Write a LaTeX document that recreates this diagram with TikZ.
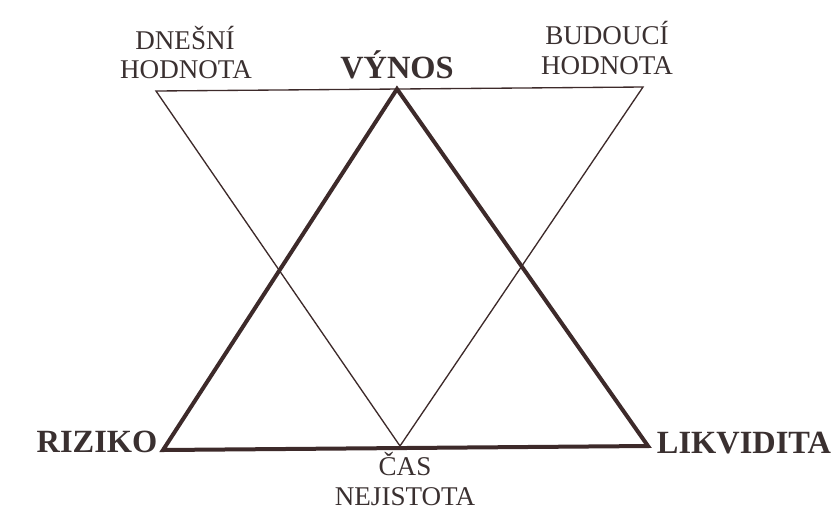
\documentclass[tikz,border=0pt]{standalone}
\usepackage{fontspec}
\setmainfont{Liberation Serif}
\definecolor{ink}{HTML}{3A3030}
\definecolor{lineink}{HTML}{3D2A2A}
\begin{document}
\begin{tikzpicture}[x=0.75pt,y=-0.75pt,
  thinline/.style={draw=lineink,line width=1.0pt,line join=miter},
  thickline/.style={draw=lineink,line width=3pt,line join=miter},
  lab/.style={text=ink,inner sep=0pt,anchor=base,font=\fontsize{20.3}{22}\selectfont},
  blab/.style={text=ink,inner sep=0pt,anchor=base,font=\fontsize{24.3}{27}\selectfont\bfseries}]
\useasboundingbox (0,0) rectangle (838,515);
% thin inverted triangle
\coordinate (tl) at (156,91);
\coordinate (tr) at (643,87);
\coordinate (tb) at (400,446);
\draw[thinline] (tl) -- (tr) -- (tb) -- cycle;
% thick triangle
\coordinate (ka) at (397,89);
\coordinate (kl) at (163,450);
\coordinate (kr) at (648,446);
\draw[thickline] (ka) -- (kr) -- (kl) -- cycle;
% labels
\node[lab] (dn1) at (185,49) {DNEŠNÍ};
\node[lab] (dn2) at (186,78) {HODNOTA};
\node[blab] (vy) at (397,78) {VÝNOS};
\node[lab] (bu1) at (607,44) {BUDOUCÍ};
\node[lab] (bu2) at (607,74) {HODNOTA};
\node[blab] (ri) at (97,452) {RIZIKO};
\node[blab] (li) at (744,453) {LIKVIDITA};
\node[lab] (ca1) at (405,475) {ČAS};
\node[lab] (ca2) at (405,505) {NEJISTOTA};
\end{tikzpicture}
\end{document}
